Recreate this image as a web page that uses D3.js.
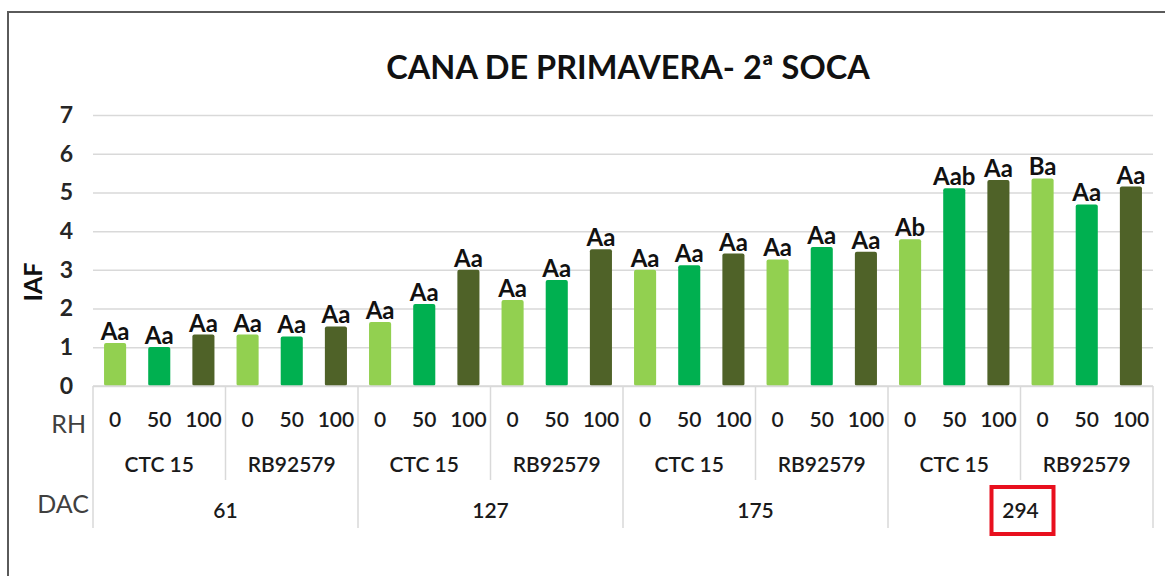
<!DOCTYPE html>
<html>
<head>
<meta charset="utf-8">
<script src="https://cdn.jsdelivr.net/npm/d3@7"></script>
<style>
  body { margin: 0; background: #fff; }
  svg { display: block; font-family: Lato, "Open Sans", sans-serif; }
</style>
</head>
<body>
<div id="chart"></div>
<script>
const dacLabels = ['61', '127', '175', '294'];
const cultivars = ['CTC 15', 'RB92579'];
const rhLabels = ['0', '50', '100'];
const iaf = [
  1.11, 1.01, 1.33, 1.33, 1.28, 1.54,
  1.65, 2.12, 3.00, 2.22, 2.74, 3.53,
  3.00, 3.12, 3.42, 3.27, 3.59, 3.47,
  3.79, 5.11, 5.32, 5.36, 4.69, 5.15
];
const letters = [
  'Aa', 'Aa', 'Aa', 'Aa', 'Aa', 'Aa',
  'Aa', 'Aa', 'Aa', 'Aa', 'Aa', 'Aa',
  'Aa', 'Aa', 'Aa', 'Aa', 'Aa', 'Aa',
  'Ab', 'Aab', 'Aa', 'Ba', 'Aa', 'Aa'
];
const rhColors = ['#92d050', '#00b050', '#4f6228'];

const width = 1165, height = 576;
const plot = {left: 93, right: 1153, top: 115, bottom: 386};

// one entry per bar
const bars = iaf.map((v, i) => ({
  i: i,
  value: v,
  letter: letters[i],
  rh: rhLabels[i % 3],
  cultivar: cultivars[Math.floor(i / 3) % 2],
  dac: dacLabels[Math.floor(i / 6)]
}));

const svg = d3.select('#chart').append('svg')
  .attr('width', width)
  .attr('height', height);

// outer frame (only top and left show in the picture)
svg.append('rect')
  .attr('x', 8).attr('y', 12)
  .attr('width', width + 20).attr('height', height + 20)
  .attr('fill', 'none')
  .attr('stroke', '#5a5a5a')
  .attr('stroke-width', 2);

const x = d3.scaleBand()
  .domain(d3.range(bars.length))
  .range([plot.left, plot.right])
  .paddingInner(0.5)
  .paddingOuter(0.25);

const y = d3.scaleLinear()
  .domain([0, 7])
  .range([plot.bottom, plot.top]);

// title
svg.append('text')
  .attr('x', 628).attr('y', 79)
  .attr('text-anchor', 'middle')
  .attr('font-size', 32.5)
  .attr('font-weight', 700)
  .attr('fill', '#111')
  .text('CANA DE PRIMAVERA- 2ª SOCA');

// gridlines + y ticks
const yAxis = svg.append('g')
  .attr('transform', `translate(${plot.left},0)`)
  .call(d3.axisLeft(y).ticks(7).tickSize(-(plot.right - plot.left)).tickPadding(20));
yAxis.select('.domain').remove();
yAxis.selectAll('line').attr('stroke', '#d9d9d9').attr('stroke-width', 1.5);
yAxis.selectAll('text')
  .attr('font-size', 23)
  .attr('font-weight', 700)
  .attr('fill', '#262626')
  .attr('font-family', 'Lato, sans-serif');

// y title
svg.append('text')
  .attr('transform', 'translate(42,282) rotate(-90)')
  .attr('text-anchor', 'middle')
  .attr('font-size', 25)
  .attr('font-weight', 700)
  .attr('fill', '#111')
  .text('IAF');

// bars
svg.append('g').selectAll('rect')
  .data(bars)
  .enter().append('rect')
  .attr('x', d => x(d.i))
  .attr('y', d => y(d.value))
  .attr('width', x.bandwidth())
  .attr('height', d => y(0) - y(d.value))
  .attr('rx', 2)
  .attr('fill', d => rhColors[d.i % 3]);

// letters above bars
svg.append('g').selectAll('text')
  .data(bars)
  .enter().append('text')
  .attr('x', d => x(d.i) + x.bandwidth() / 2)
  .attr('y', d => y(d.value) - 3)
  .attr('text-anchor', 'middle')
  .attr('font-size', 24)
  .attr('font-weight', 700)
  .attr('fill', '#111')
  .text(d => d.letter);

// category axis (3 levels)
const axisColor = '#d9d9d9';
const step = x.step();
const bot = svg.append('g');

bot.append('line')
  .attr('x1', plot.left).attr('x2', plot.right)
  .attr('y1', plot.bottom).attr('y2', plot.bottom)
  .attr('stroke', axisColor).attr('stroke-width', 1.5);

// RH row
bot.selectAll('.rh')
  .data(bars)
  .enter().append('text')
  .attr('class', 'rh')
  .attr('x', d => x(d.i) + x.bandwidth() / 2)
  .attr('y', 427)
  .attr('text-anchor', 'middle')
  .attr('font-size', 21)
  .attr('font-weight', 600)
  .attr('fill', '#1a1a1a')
  .text(d => d.rh);

// cultivar row
const cultGroups = d3.range(bars.length / 3);
bot.selectAll('.cult')
  .data(cultGroups)
  .enter().append('text')
  .attr('class', 'cult')
  .attr('x', g => plot.left + step * (g * 3 + 1.5))
  .attr('y', 472)
  .attr('text-anchor', 'middle')
  .attr('font-size', 21)
  .attr('font-weight', 600)
  .attr('fill', '#1a1a1a')
  .text(g => cultivars[g % 2]);

// DAC row
const dacGroups = d3.range(dacLabels.length);
bot.selectAll('.dac')
  .data(dacGroups)
  .enter().append('text')
  .attr('class', 'dac')
  .attr('x', g => plot.left + step * (g * 6 + 3))
  .attr('y', 518)
  .attr('text-anchor', 'middle')
  .attr('font-size', 21)
  .attr('font-weight', 600)
  .attr('fill', '#1a1a1a')
  .text(g => dacLabels[g]);

// dividers
d3.range(bars.length / 3 + 1).forEach(g => {
  const xx = plot.left + step * g * 3;
  bot.append('line')
    .attr('x1', xx).attr('x2', xx)
    .attr('y1', plot.bottom).attr('y2', g % 2 === 0 ? 528 : 480)
    .attr('stroke', axisColor).attr('stroke-width', 1.5);
});

// row titles
bot.append('text')
  .attr('x', 86).attr('y', 433)
  .attr('text-anchor', 'end')
  .attr('font-size', 25)
  .attr('fill', '#404040')
  .text('RH');
bot.append('text')
  .attr('x', 89).attr('y', 513)
  .attr('text-anchor', 'end')
  .attr('font-size', 25)
  .attr('fill', '#404040')
  .text('DAC');

// red highlight round the last DAC
const lastCenter = plot.left + step * (3 * 6 + 3);
svg.append('rect')
  .attr('x', lastCenter - 29).attr('y', 487)
  .attr('width', 62).attr('height', 47)
  .attr('fill', 'none')
  .attr('stroke', '#e8101e')
  .attr('stroke-width', 4);
</script>
</body>
</html>
